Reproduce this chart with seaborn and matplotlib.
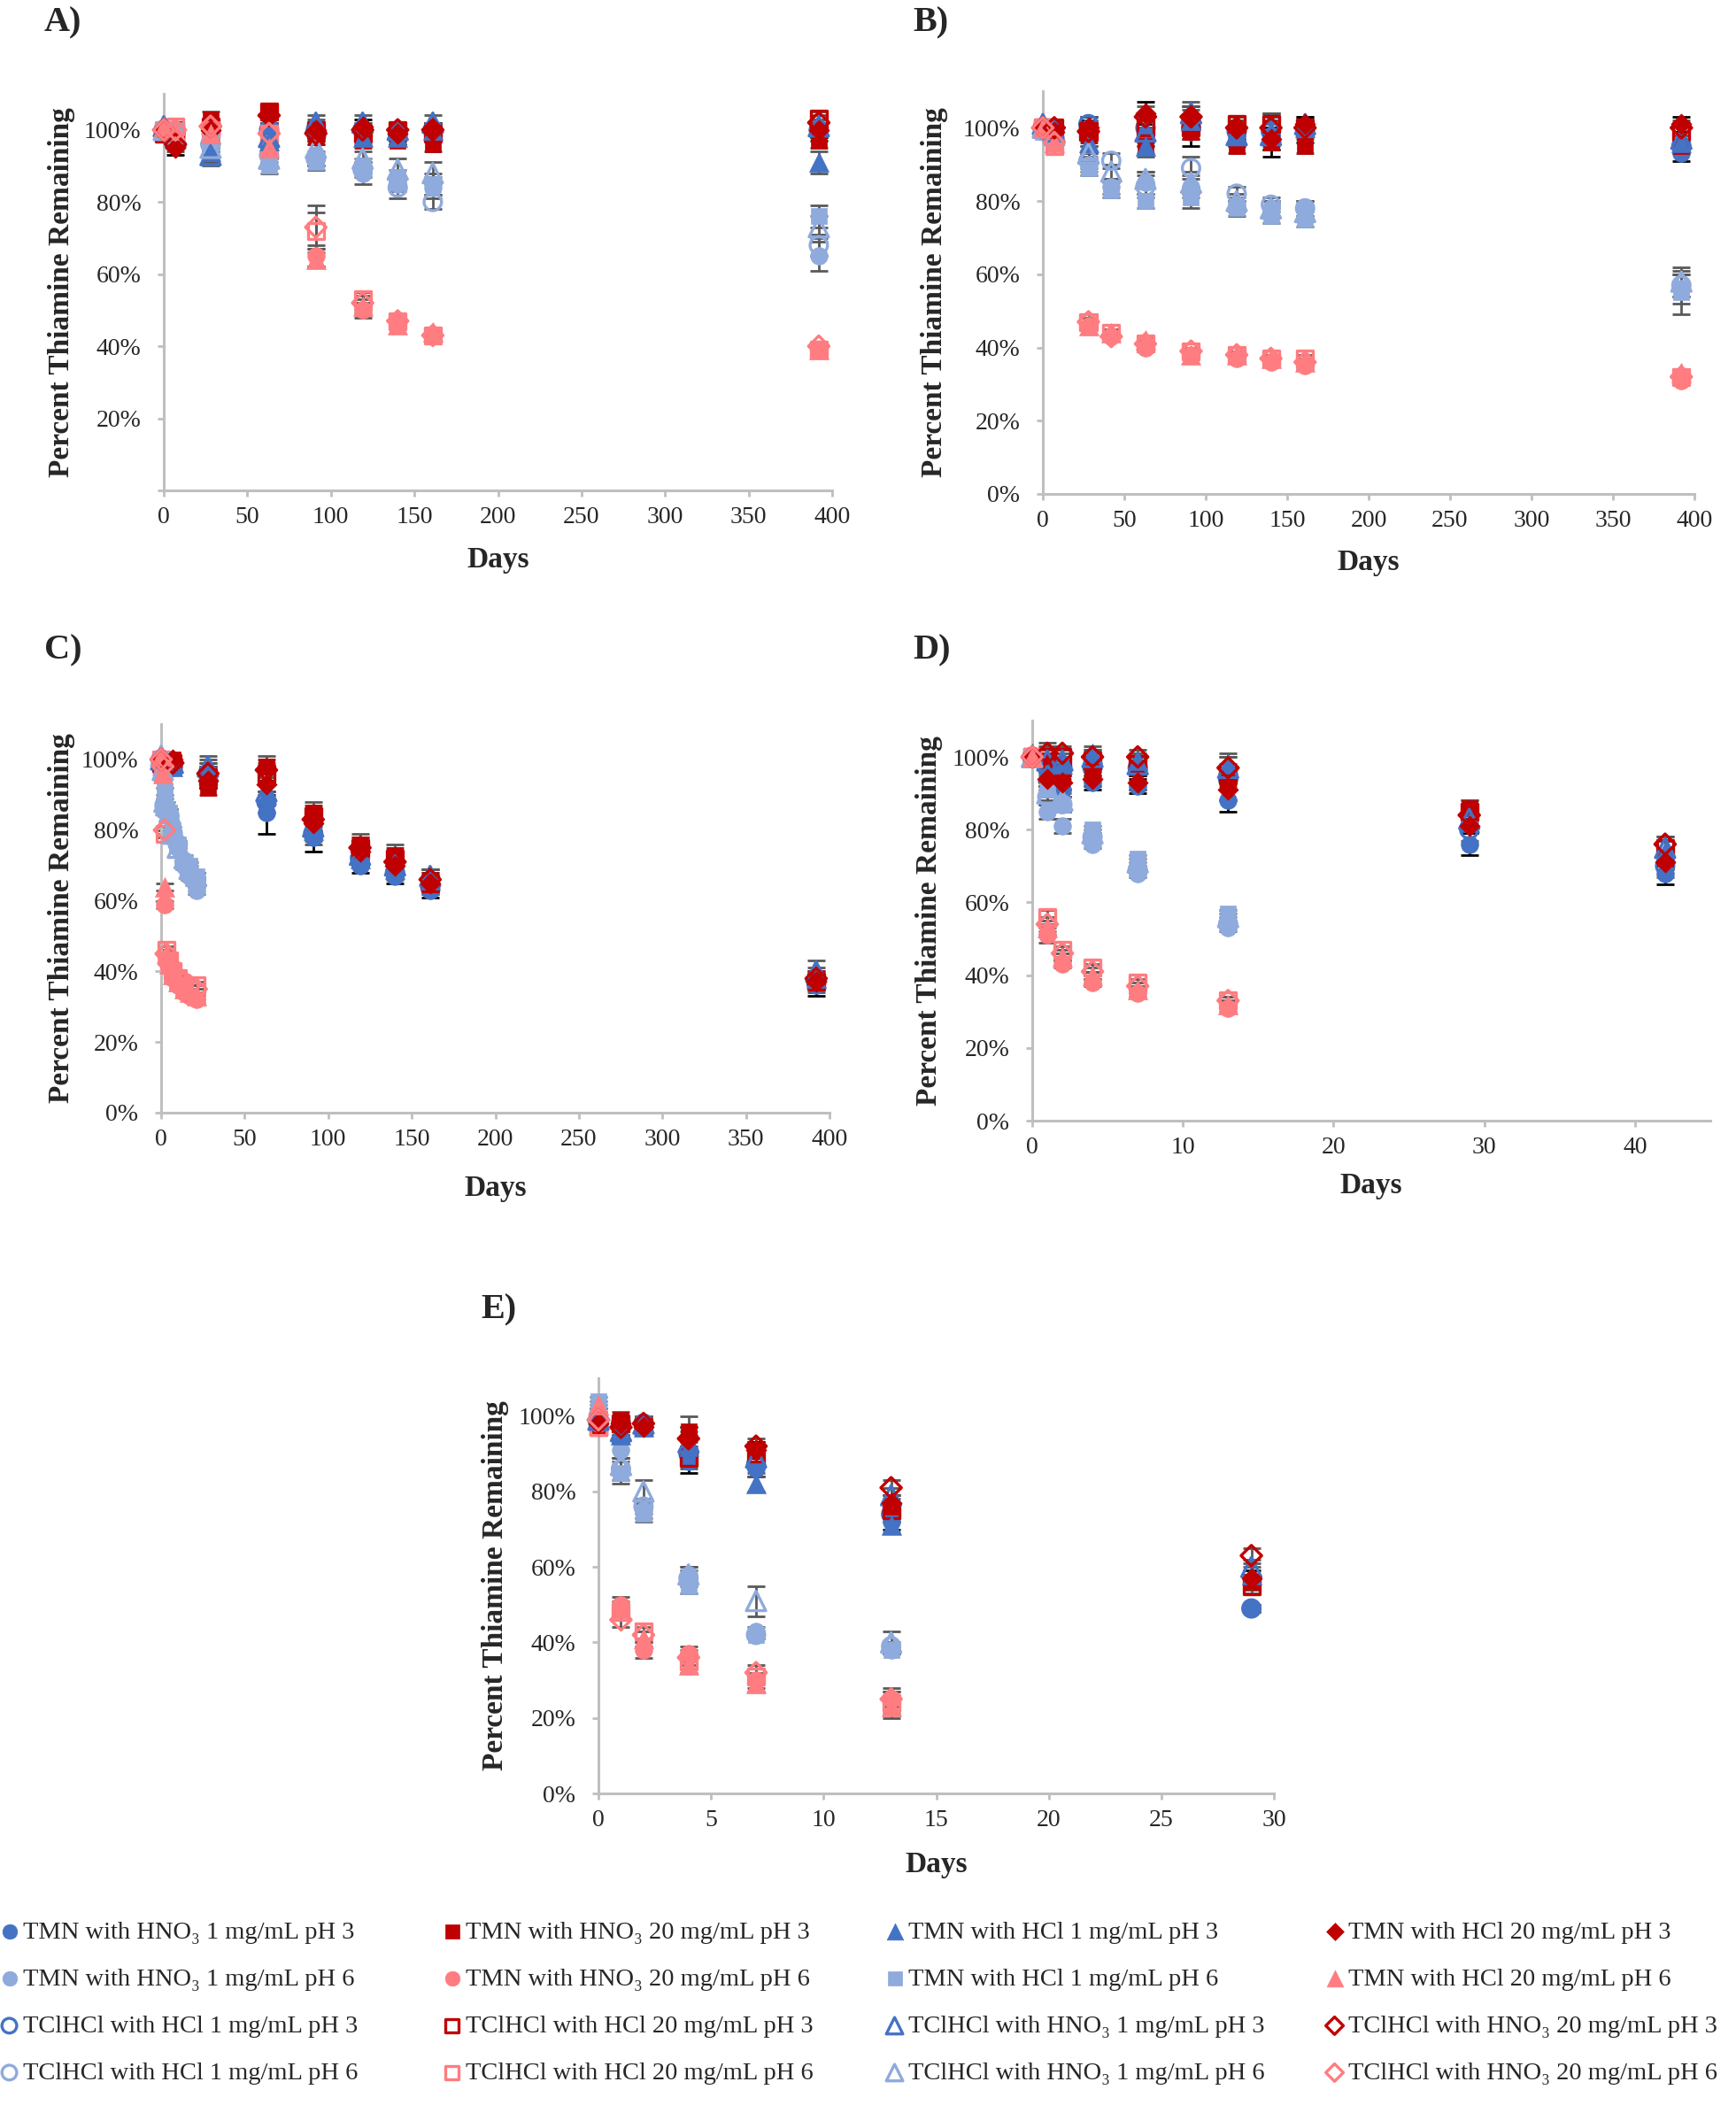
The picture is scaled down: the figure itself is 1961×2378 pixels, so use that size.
import numpy as np
import pandas as pd
import matplotlib
matplotlib.use("Agg")
import matplotlib.pyplot as plt
from matplotlib.ticker import FuncFormatter
import seaborn as sns

sns.set_theme(style="white")
plt.rcParams["font.family"] = ["Liberation Serif", "DejaVu Serif"]

W, H = 1961, 2378
NA = np.nan

series_names = [
    "TMN with HNO₃ 1 mg/mL pH 3",
    "TMN with HNO₃ 1 mg/mL pH 6",
    "TClHCl with HCl 1 mg/mL pH 3",
    "TClHCl with HCl 1 mg/mL pH 6",
    "TMN with HNO₃ 20 mg/mL pH 3",
    "TMN with HNO₃ 20 mg/mL pH 6",
    "TClHCl with HCl 20 mg/mL pH 3",
    "TClHCl with HCl 20 mg/mL pH 6",
    "TMN with HCl 1 mg/mL pH 3",
    "TMN with HCl 1 mg/mL pH 6",
    "TClHCl with HNO₃ 1 mg/mL pH 3",
    "TClHCl with HNO₃ 1 mg/mL pH 6",
    "TMN with HCl 20 mg/mL pH 3",
    "TMN with HCl 20 mg/mL pH 6",
    "TClHCl with HNO₃ 20 mg/mL pH 3",
    "TClHCl with HNO₃ 20 mg/mL pH 6",
]

# ---- panel A ----
days_A = [0, 7, 28, 63, 91, 119, 140, 161, 392]
pct_A = [
    [100, 98, 97, 101, 99, 99, 98, 99, 99],
    [100, 99, 95, 95, 93, 88, 85, 84, 65],
    [100, 99, 96, 100, 100, 100, 99, 100, 100],
    [99, 98, 96, 93, 92, 89, 84, 80, 68],
    [100, 99, 103, 105, 98, 97, 97, 96, 97],
    [100, 100, 100, 94, 65, 50, 47, 43, 39],
    [99, 100, 101, 105, 100, 99, 100, 99, 103],
    [100, 101, 100, 99, 72, 53, 47, 43, 39],
    [100, 99, 94, 97, 101, 98, 98, 100, 91],
    [100, 100, 97, 90, 91, 90, 87, 85, 76],
    [101, 98, 93, 98, 102, 102, 100, 102, 101],
    [100, 99, 95, 92, 95, 92, 89, 88, 73],
    [100, 95, 100, 104, 100, 101, 99, 100, 100],
    [101, 100, 99, 95, 64, 51, 46, 44, 39],
    [100, 96, 101, 104, 99, 100, 100, 100, 102],
    [100, 100, 101, 99, 73, 52, 47, 43, 40],
]
err_A = [
    [1, 3, 2, 2, 2, 2, 2, 2, 2],
    [1, 2, 2, 3, 3, 3, 2, 3, 4],
    [1, 2, 2, 2, 2, 2, 2, 2, 2],
    [1, 2, 2, 2, 2, 2, 3, 2, 3],
    [1, 1, 2, 2, 2, 2, 1, 2, 2],
    [1, 1, 1, 2, 3, 2, 1, 1, 1],
    [1, 2, 2, 2, 2, 2, 2, 2, 2],
    [1, 1, 1, 2, 5, 2, 1, 1, 1],
    [1, 2, 4, 2, 2, 2, 2, 2, 3],
    [1, 2, 2, 2, 2, 2, 2, 3, 3],
    [1, 2, 2, 2, 2, 2, 2, 2, 2],
    [1, 2, 2, 2, 2, 2, 3, 3, 3],
    [1, 2, 2, 2, 2, 2, 2, 2, 2],
    [1, 1, 1, 2, 2, 2, 1, 1, 1],
    [1, 2, 2, 2, 2, 2, 2, 2, 2],
    [1, 1, 1, 2, 6, 2, 1, 1, 1],
]

# ---- panel B ----
days_B = [0, 7, 28, 42, 63, 91, 119, 140, 161, 392]
pct_B = [
    [100, 99, 100, NA, 98, 99, 97, 98, 98, 93],
    [99, 98, 90, 84, 85, 84, 79, 78, 78, 56],
    [100, 99, 101, NA, 100, 100, 99, 99, 100, 95],
    [100, 97, 91, 91, 84, 89, 82, 79, 78, 57],
    [100, 99, 98, NA, 95, 99, 95, 96, 95, 95],
    [100, 96, 46, 43, 40, 38, 37, 36, 35, 31],
    [100, 100, 99, NA, 100, 100, 101, 101, 100, 99],
    [100, 95, 47, 44, 41, 39, 38, 37, 37, 32],
    [101, 100, 96, NA, 95, 102, 98, 99, 100, 96],
    [99, 97, 89, 83, 80, 81, 78, 76, 75, 55],
    [101, 99, 93, NA, 99, 104, 98, 98, 101, 97],
    [100, 98, 93, 88, 86, 85, 80, 78, 77, 58],
    [100, 99, 100, NA, 104, 103, 100, 97, 101, 101],
    [100, 96, 46, 44, 42, 38, 38, 37, 36, 33],
    [100, 100, 99, NA, 103, 103, 100, 100, 100, 100],
    [100, 96, 47, 43, 41, 39, 38, 37, 36, 32],
]
err_B = [
    [1, 2, 3, 0, 3, 4, 2, 6, 2, 2],
    [1, 2, 2, 2, 3, 3, 2, 2, 2, 4],
    [1, 2, 2, 0, 3, 3, 2, 3, 2, 2],
    [1, 2, 2, 2, 3, 3, 2, 2, 2, 3],
    [1, 1, 2, 0, 2, 2, 2, 2, 2, 2],
    [1, 1, 1, 1, 1, 1, 1, 1, 1, 1],
    [1, 2, 2, 0, 3, 3, 2, 3, 2, 2],
    [1, 1, 2, 1, 2, 1, 1, 1, 1, 1],
    [1, 2, 3, 0, 3, 3, 2, 3, 2, 2],
    [1, 2, 2, 2, 2, 3, 2, 2, 2, 6],
    [1, 2, 2, 0, 3, 3, 2, 3, 2, 2],
    [1, 2, 2, 2, 2, 3, 2, 2, 2, 4],
    [1, 2, 2, 0, 3, 3, 2, 3, 2, 2],
    [1, 1, 1, 1, 1, 1, 1, 1, 1, 1],
    [1, 2, 2, 0, 3, 3, 2, 3, 2, 2],
    [1, 1, 1, 1, 1, 1, 1, 1, 1, 1],
]

# ---- panel C ----
days_C = [0, 1, 2, 3, 5, 7, 10, 14, 17, 21, 28, 63, 91, 119, 140, 161, 392]
pct_C = [
    [100, NA, NA, NA, NA, 99, NA, NA, NA, NA, 95, 85, 78, 70, 67, 63, 36],
    [100, 95, 86, 85, 84, 78, 75, 70, 67, 63, NA, NA, NA, NA, NA, NA, NA],
    [100, NA, NA, NA, NA, 98, NA, NA, NA, NA, 96, 88, 79, 72, 68, 64, 37],
    [99, 96, 87, 86, 84, 79, 76, 71, 68, 66, NA, NA, NA, NA, NA, NA, NA],
    [100, NA, NA, NA, NA, 100, NA, NA, NA, NA, 92, 98, 85, 76, 73, 66, 38],
    [99, 95, 59, 43, 41, 38, 36, 34, 33, 32, NA, NA, NA, NA, NA, NA, NA],
    [99, NA, NA, NA, NA, 99, NA, NA, NA, NA, 95, 96, 84, 75, 72, 65, 37],
    [100, 97, 79, 46, 43, 40, 38, 36, 35, 36, NA, NA, NA, NA, NA, NA, NA],
    [101, NA, NA, NA, NA, 98, NA, NA, NA, NA, 97, 90, 80, 72, 69, 66, 38],
    [100, 98, 91, 86, 85, 80, 76, 71, 70, 67, NA, NA, NA, NA, NA, NA, NA],
    [100, NA, NA, NA, NA, 99, NA, NA, NA, NA, 98, 91, 81, 73, 70, 67, 40],
    [101, 97, 88, 87, 85, 79, 75, 72, 69, 67, NA, NA, NA, NA, NA, NA, NA],
    [100, NA, NA, NA, NA, 100, NA, NA, NA, NA, 94, 93, 82, 74, 70, 65, 37],
    [101, 96, 64, 45, 42, 39, 37, 35, 34, 33, NA, NA, NA, NA, NA, NA, NA],
    [100, NA, NA, NA, NA, 99, NA, NA, NA, NA, 96, 97, 83, 75, 71, 66, 38],
    [100, 98, 80, 45, 42, 40, 38, 37, 36, 35, NA, NA, NA, NA, NA, NA, NA],
]
err_C = [
    [1, 0, 0, 0, 0, 2, 0, 0, 0, 0, 3, 6, 4, 2, 2, 2, 3],
    [1, 1, 1, 1, 1, 1, 1, 1, 1, 1, 0, 0, 0, 0, 0, 0, 0],
    [1, 0, 0, 0, 0, 2, 0, 0, 0, 0, 3, 3, 3, 2, 2, 2, 3],
    [1, 1, 1, 1, 1, 1, 1, 1, 1, 1, 0, 0, 0, 0, 0, 0, 0],
    [1, 0, 0, 0, 0, 1, 0, 0, 0, 0, 2, 3, 3, 3, 3, 3, 2],
    [1, 1, 1, 1, 1, 1, 1, 1, 1, 1, 0, 0, 0, 0, 0, 0, 0],
    [1, 0, 0, 0, 0, 2, 0, 0, 0, 0, 3, 3, 3, 3, 3, 3, 2],
    [1, 1, 1, 1, 1, 1, 1, 1, 1, 1, 0, 0, 0, 0, 0, 0, 0],
    [1, 0, 0, 0, 0, 2, 0, 0, 0, 0, 3, 3, 3, 2, 2, 2, 3],
    [1, 1, 1, 1, 1, 1, 1, 1, 1, 1, 0, 0, 0, 0, 0, 0, 0],
    [1, 0, 0, 0, 0, 2, 0, 0, 0, 0, 3, 3, 3, 2, 2, 2, 3],
    [1, 1, 1, 1, 1, 1, 1, 1, 1, 1, 0, 0, 0, 0, 0, 0, 0],
    [1, 0, 0, 0, 0, 1, 0, 0, 0, 0, 2, 3, 3, 3, 3, 2, 2],
    [1, 1, 1, 1, 1, 1, 1, 1, 1, 1, 0, 0, 0, 0, 0, 0, 0],
    [1, 0, 0, 0, 0, 2, 0, 0, 0, 0, 3, 3, 3, 3, 3, 3, 2],
    [1, 1, 1, 1, 1, 1, 1, 1, 1, 1, 0, 0, 0, 0, 0, 0, 0],
]

# ---- panel D ----
days_D = [0, 1, 2, 4, 7, 13, 29, 42]
pct_D = [
    [100, 96, 91, 93, 92, 88, 76, 68],
    [100, 85, 81, 76, 68, 53, NA, NA],
    [100, 98, 97, 97, 97, 94, 80, 70],
    [100, 89, 87, 78, 69, 54, NA, NA],
    [100, 99, 96, 96, 97, 94, 86, 72],
    [100, 51, 43, 38, 35, 31, NA, NA],
    [100, 100, 100, 99, 98, 95, 85, 75],
    [100, 56, 47, 42, 38, 33, NA, NA],
    [101, 96, 98, 101, 99, 98, 82, 74],
    [100, 91, 87, 80, 72, 57, NA, NA],
    [100, 99, 99, 100, 98, 97, 83, 75],
    [100, 90, 88, 79, 71, 56, NA, NA],
    [100, 94, 93, 94, 93, 91, 81, 71],
    [100, 53, 45, 40, 36, 32, NA, NA],
    [100, 101, 101, 100, 100, 97, 84, 76],
    [100, 54, 46, 41, 37, 33, NA, NA],
]
err_D = [
    [1, 3, 2, 2, 2, 3, 3, 3],
    [1, 2, 2, 1, 1, 1, 0, 0],
    [1, 3, 2, 2, 2, 3, 3, 3],
    [1, 2, 2, 1, 1, 1, 0, 0],
    [1, 2, 2, 2, 2, 3, 2, 2],
    [1, 2, 1, 1, 1, 1, 0, 0],
    [1, 3, 2, 2, 2, 3, 3, 2],
    [1, 2, 1, 1, 1, 1, 0, 0],
    [1, 3, 2, 2, 2, 3, 3, 3],
    [1, 2, 2, 1, 1, 1, 0, 0],
    [1, 3, 2, 2, 2, 3, 3, 3],
    [1, 2, 2, 1, 1, 1, 0, 0],
    [1, 2, 2, 2, 2, 3, 2, 2],
    [1, 2, 1, 1, 1, 1, 0, 0],
    [1, 3, 2, 2, 2, 3, 3, 2],
    [1, 2, 1, 1, 1, 1, 0, 0],
]

# ---- panel E ----
days_E = [0, 1, 2, 4, 7, 13, 29]
pct_E = [
    [99, 97, 97, 88, 86, 72, 49],
    [99, 91, 75, 58, 43, 38, NA],
    [98, 98, 98, 90, 87, 74, 49],
    [100, 86, 76, 57, 42, 39, NA],
    [97, 99, 97, 96, 91, 76, 56],
    [98, 50, 38, 37, 30, 25, NA],
    [97, 98, 97, 89, 90, 75, 55],
    [97, 48, 43, 35, 31, 24, NA],
    [100, 95, 97, 92, 82, 71, 58],
    [104, 85, 74, 55, 42, 38, NA],
    [99, 96, 98, 93, 89, 79, 60],
    [101, 87, 80, 58, 51, 40, NA],
    [98, 98, 97, 94, 91, 77, 57],
    [103, 49, 41, 34, 29, 23, NA],
    [99, 97, 98, 94, 92, 81, 63],
    [99, 46, 42, 36, 32, 25, NA],
]
err_E = [
    [1, 2, 2, 3, 2, 2, 1],
    [1, 2, 2, 2, 1, 1, 0],
    [1, 2, 2, 3, 2, 2, 1],
    [1, 3, 2, 2, 1, 1, 0],
    [1, 2, 2, 4, 2, 2, 2],
    [1, 2, 2, 2, 2, 2, 0],
    [1, 2, 2, 3, 2, 2, 2],
    [1, 2, 2, 2, 2, 3, 0],
    [1, 2, 2, 3, 2, 2, 2],
    [1, 3, 2, 2, 1, 1, 0],
    [1, 2, 2, 3, 2, 2, 2],
    [1, 2, 3, 2, 4, 3, 0],
    [1, 2, 2, 3, 2, 2, 2],
    [1, 2, 2, 2, 2, 3, 0],
    [1, 2, 2, 3, 2, 2, 2],
    [1, 2, 2, 2, 2, 3, 0],
]

# ---- styles ----
DB, LB, DR, SA = "#4472C4", "#8FAADC", "#C00000", "#FF7C80"
colors = [DB, LB, DB, LB, DR, SA, DR, SA, DB, LB, DB, LB, DR, SA, DR, SA]
markers = ["o", "o", "o", "o", "s", "o", "s", "s", "^", "s", "^", "^", "D", "^", "D", "D"]
filled = [1, 1, 0, 0, 1, 1, 0, 0, 1, 1, 0, 0, 1, 1, 0, 0]
msize = {"o": 200, "s": 170, "^": 250, "D": 140}
ecolors = ["black" if i in (0, 12) else "#595959" for i in range(16)]
AXIS_GREY = "#BFBFBF"


def box(l, t, r, b):
    return [l / W, 1 - b / H, (r - l) / W, (b - t) / H]


def draw_panel(ax, days, pct, err, xlim, xticks, show_zero):
    handles = []
    for i, name in enumerate(series_names):
        d = pd.DataFrame({"day": days, "pct": pct[i], "err": err[i]}).dropna()
        ax.errorbar(d["day"], d["pct"], yerr=d["err"], fmt="none",
                    ecolor=ecolors[i], elinewidth=2, capsize=7, capthick=2,
                    zorder=2, clip_on=False)
        if filled[i]:
            kw = dict(color=colors[i], edgecolor=colors[i], linewidth=0.5)
        else:
            kw = dict(facecolor="none", edgecolor=colors[i], linewidth=2.4)
        sns.scatterplot(data=d, x="day", y="pct", ax=ax, marker=markers[i],
                        s=msize[markers[i]], zorder=3, clip_on=False,
                        label=name, legend=False, **kw)
        handles.append(ax.collections[-1])

    ax.set_xlim(*xlim)
    ax.set_ylim(0, 110)
    ax.set_xticks(xticks)
    ax.set_yticks(range(0, 101, 20))
    ax.yaxis.set_major_formatter(FuncFormatter(
        lambda v, p: "" if (v == 0 and not show_zero) else f"{v:.0f}%"))
    for s in ["top", "right"]:
        ax.spines[s].set_visible(False)
    for s in ["left", "bottom"]:
        ax.spines[s].set_color(AXIS_GREY)
        ax.spines[s].set_linewidth(2.2)
    ax.tick_params(axis="y", left=True, length=5, width=2, color=AXIS_GREY,
                   pad=13.5, labelsize=20)
    ax.tick_params(axis="x", bottom=True, length=5, width=2, color=AXIS_GREY,
                   pad=8, labelsize=20)
    ax.set_xlabel("Days", fontsize=24, fontweight="bold")
    ax.set_ylabel("Percent Thiamine Remaining", fontsize=24, fontweight="bold")
    return handles


fig = plt.figure(figsize=(W / 100, H / 100), dpi=100)

panels = [
    ("A)", days_A, pct_A, err_A, box(185, 106, 940, 554), (0, 400), range(0, 401, 50),
     False, (50, 26), (-0.1325, -0.141)),
    ("B)", days_B, pct_B, err_B, box(1178, 103, 1914, 558), (0, 400), range(0, 401, 50),
     True, (1031, 26), (-0.145, -0.136)),
    ("C)", days_C, pct_C, err_C, box(182, 818, 937, 1257), (0, 400), range(0, 401, 50),
     True, (50, 735), (-0.128, -0.159)),
    ("D)", days_D, pct_D, err_D, box(1166, 814, 1932, 1266), (0, 45), range(0, 41, 10),
     True, (1031, 735), (-0.132, -0.128)),
    ("E)", days_E, pct_E, err_E, box(676, 1557, 1439, 2026), (0, 30), range(0, 31, 5),
     True, (543, 1480), (-0.132, -0.139)),
]

legend_handles = None
for tag, days, pct, err, rect, xlim, xticks, zero, tagpos, labpos in panels:
    ax = fig.add_axes(rect)
    h = draw_panel(ax, days, pct, err, xlim, list(xticks), zero)
    if legend_handles is None:
        legend_handles = h
    ax.yaxis.set_label_coords(labpos[0], 0.5)
    ax.xaxis.set_label_coords(0.5, labpos[1])
    fig.text(tagpos[0] / W, 1 - tagpos[1] / H, tag, fontsize=29,
             fontweight="bold", ha="left", va="center")

col_x = [2, 502, 1002, 1499]
for c in range(4):
    idx = range(4 * c, 4 * c + 4)
    fig.legend([legend_handles[i] for i in idx], [series_names[i] for i in idx],
               loc="upper left", bbox_to_anchor=(col_x[c] / W, 1 - 2170 / H),
               frameon=False, fontsize=20.5, handlelength=0.6,
               handletextpad=0.26, labelspacing=0.95, borderpad=0,
               borderaxespad=0, markerscale=0.85, scatterpoints=1)

fig.savefig("out.png", dpi=100)
